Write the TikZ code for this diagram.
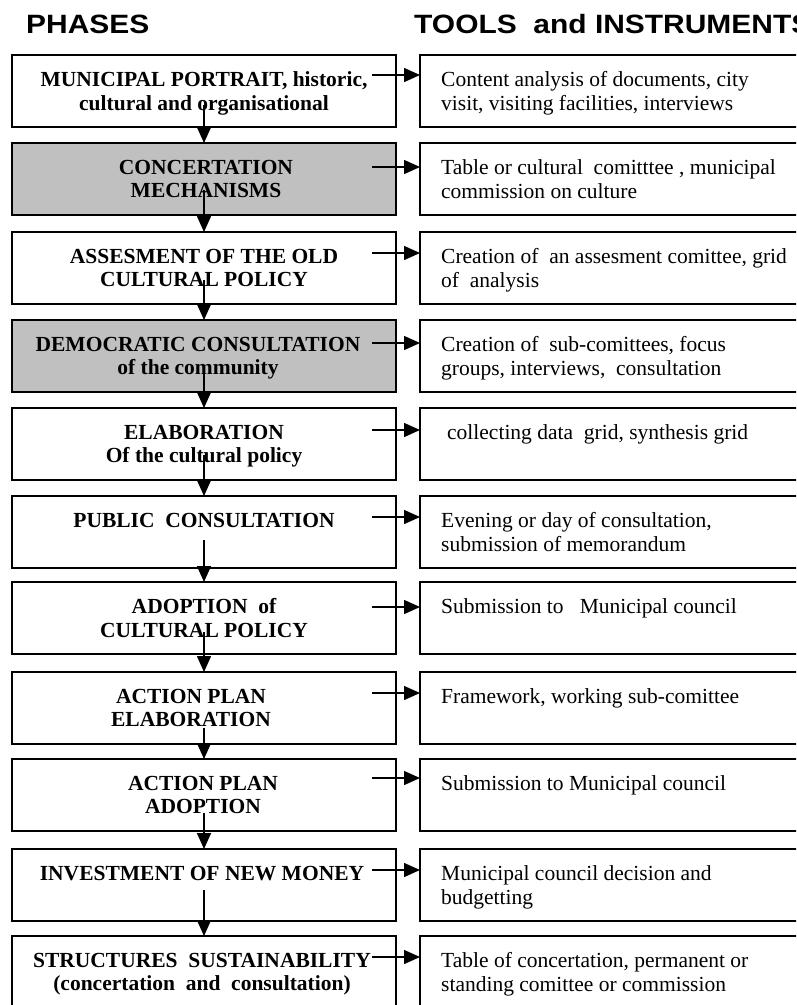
\documentclass[tikz,border=0pt]{standalone}
\usepackage{fontspec}
\setmainfont{Liberation Serif}
\newfontfamily\hdrfont[FakeStretch=1.13]{Liberation Sans}
\usetikzlibrary{arrows.meta}
\definecolor{boxgray}{HTML}{C0C0C0}
\begin{document}
\begin{tikzpicture}[x=1pt,y=-1pt,
  phase/.style={draw=black, line width=1.8pt, fill=white, minimum width=384pt, minimum height=72pt, anchor=north west, inner sep=0pt, outer sep=0pt},
  grayphase/.style={phase, fill=boxgray},
  tool/.style={draw=black, line width=1.8pt, fill=white, minimum width=420pt, minimum height=72pt, anchor=north west, inner sep=0pt, outer sep=0pt},
  ptext/.style={anchor=north, inner sep=0pt, align=center, font=\fontsize{21.5}{23.5}\selectfont\bfseries},
  ttext/.style={anchor=north west, inner sep=0pt, align=left, font=\fontsize{21.5}{23.5}\selectfont},
  hdr/.style={anchor=base west, inner sep=0pt, font=\hdrfont\bfseries\fontsize{26.5}{30}\selectfont},
  arr/.style={line width=1.5pt, -{Triangle[length=16pt,width=14pt]}}
]
\useasboundingbox (0,0) rectangle (796,1005);
\clip (0,0) rectangle (796,1005);
\fill[white] (0,0) rectangle (796,1005);

% headers
\node[hdr] (hphases) at (26,33) {PHASES};
\node[hdr] (htools) at (414,33) {TOOLS\ \ and INSTRUMENTS};

% phase boxes
\node[phase]     (p1)  at (12,55)  {};
\node[grayphase] (p2)  at (12,143) {};
\node[phase]     (p3)  at (12,232) {};
\node[grayphase] (p4)  at (12,320) {};
\node[phase]     (p5)  at (12,408) {};
\node[phase]     (p6)  at (12,496) {};
\node[phase]     (p7)  at (12,582) {};
\node[phase]     (p8)  at (12,672) {};
\node[phase]     (p9)  at (12,759) {};
\node[phase]     (p10) at (12,849) {};
\node[phase]     (p11) at (12,936) {};

% tool boxes
\node[tool] (t1)  at (420,55)  {};
\node[tool] (t2)  at (420,143) {};
\node[tool] (t3)  at (420,232) {};
\node[tool] (t4)  at (420,320) {};
\node[tool] (t5)  at (420,408) {};
\node[tool] (t6)  at (420,496) {};
\node[tool] (t7)  at (420,582) {};
\node[tool] (t8)  at (420,672) {};
\node[tool] (t9)  at (420,759) {};
\node[tool] (t10) at (420,849) {};
\node[tool] (t11) at (420,936) {};

% phase texts
\node[ptext] (pt1)  at (204,71.6)  {MUNICIPAL PORTRAIT, historic,\\cultural and organisational};
\node[ptext] (pt2)  at (206,159.6) {CONCERTATION\\MECHANISMS};
\node[ptext] (pt3)  at (204,248.6) {ASSESMENT OF THE OLD\\CULTURAL POLICY};
\node[ptext] (pt4)  at (198,336.6) {DEMOCRATIC CONSULTATION\\of the community};
\node[ptext] (pt5)  at (204,424.6) {ELABORATION\\Of the cultural policy};
\node[ptext] (pt6)  at (204,512.6) {PUBLIC\ \ CONSULTATION};
\node[ptext] (pt7)  at (204,598.6) {ADOPTION\ \ of\\CULTURAL POLICY};
\node[ptext] (pt8)  at (191,688.6) {ACTION PLAN\\ELABORATION};
\node[ptext] (pt9)  at (203,775.6) {ACTION PLAN\\ADOPTION};
\node[ptext] (pt10) at (202,865.6) {INVESTMENT OF NEW MONEY};
\node[ptext] (pt11) at (202,952.6) {STRUCTURES\ \ SUSTAINABILITY\\(concertation\ \ and\ \ consultation)};

% tool texts
\node[ttext] (tt1)  at (441,71.6)  {Content analysis of documents, city\\visit, visiting facilities, interviews};
\node[ttext] (tt2)  at (441,159.6) {Table or cultural\ \ comitttee , municipal\\commission on culture};
\node[ttext] (tt3)  at (441,248.6) {Creation of\ \ an assesment comittee, grid\\of\ \ analysis};
\node[ttext] (tt4)  at (441,336.6) {Creation of\ \ sub-comittees, focus\\groups, interviews,\ \ consultation};
\node[ttext] (tt5)  at (447,424.6) {collecting data\ \ grid, synthesis grid};
\node[ttext] (tt6)  at (441,512.6) {Evening or day of consultation,\\submission of memorandum};
\node[ttext] (tt7)  at (441,598.6) {Submission to\ \ \ Municipal council};
\node[ttext] (tt8)  at (441,688.6) {Framework, working sub-comittee};
\node[ttext] (tt9)  at (441,775.6) {Submission to Municipal council};
\node[ttext] (tt10) at (441,865.6) {Municipal council decision and\\budgetting};
\node[ttext] (tt11) at (441,952.6) {Table of concertation, permanent or\\standing comittee or commission};

% vertical arrows
\coordinate (v1)  at (204,105);
\coordinate (v2)  at (204,190);
\coordinate (v3)  at (204,280);
\coordinate (v4)  at (204,365);
\coordinate (v5)  at (204,455);
\coordinate (v6)  at (204,540);
\coordinate (v7)  at (204,632);
\coordinate (v8)  at (204,728);
\coordinate (v9)  at (204,813);
\coordinate (v10) at (204,890);
\draw[arr] (v1)  -- (v1  |- p2.north);
\draw[arr] (v2)  -- (v2  |- p3.north);
\draw[arr] (v3)  -- (v3  |- p4.north);
\draw[arr] (v4)  -- (v4  |- p5.north);
\draw[arr] (v5)  -- (v5  |- p6.north);
\draw[arr] (v6)  -- (v6  |- p7.north);
\draw[arr] (v7)  -- (v7  |- p8.north);
\draw[arr] (v8)  -- (v8  |- p9.north);
\draw[arr] (v9)  -- (v9  |- p10.north);
\draw[arr] (v10) -- (v10 |- p11.north);

% horizontal arrows
\coordinate (h1)  at (372,75);
\coordinate (h2)  at (372,167);
\coordinate (h3)  at (372,253);
\coordinate (h4)  at (372,343);
\coordinate (h5)  at (372,430);
\coordinate (h6)  at (372,517);
\coordinate (h7)  at (372,607);
\coordinate (h8)  at (372,693);
\coordinate (h9)  at (372,778);
\coordinate (h10) at (372,870);
\coordinate (h11) at (372,957);
\draw[arr] (h1)  -- (h1  -| t1.west);
\draw[arr] (h2)  -- (h2  -| t2.west);
\draw[arr] (h3)  -- (h3  -| t3.west);
\draw[arr] (h4)  -- (h4  -| t4.west);
\draw[arr] (h5)  -- (h5  -| t5.west);
\draw[arr] (h6)  -- (h6  -| t6.west);
\draw[arr] (h7)  -- (h7  -| t7.west);
\draw[arr] (h8)  -- (h8  -| t8.west);
\draw[arr] (h9)  -- (h9  -| t9.west);
\draw[arr] (h10) -- (h10 -| t10.west);
\draw[arr] (h11) -- (h11 -| t11.west);
\end{tikzpicture}
\end{document}
